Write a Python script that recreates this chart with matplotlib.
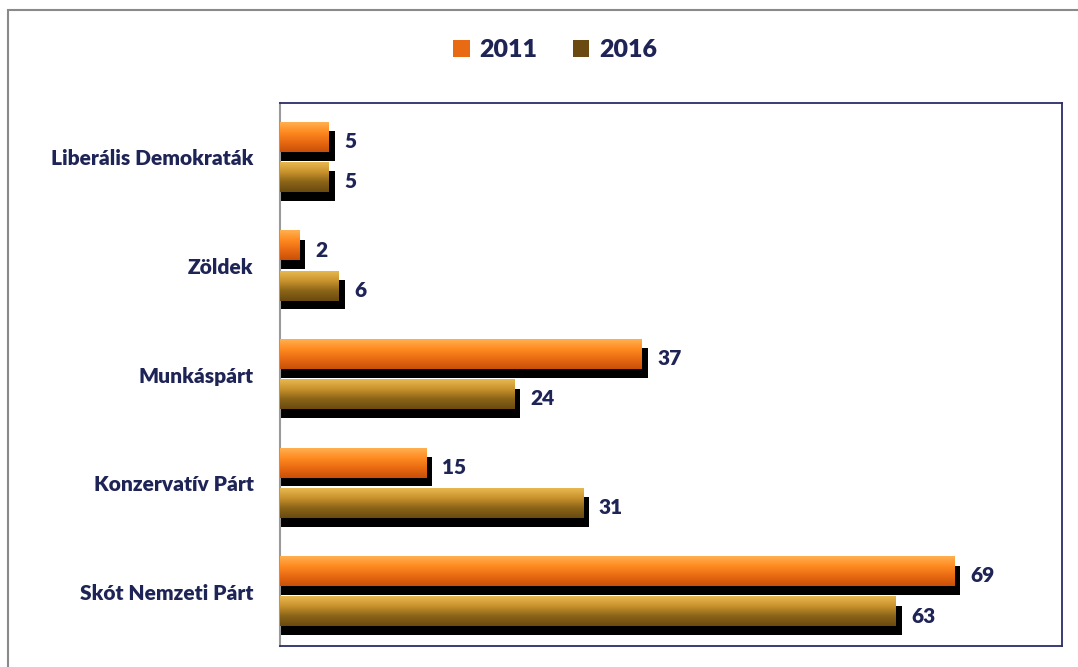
import numpy as np
import matplotlib
matplotlib.use('Agg')
import matplotlib.pyplot as plt
from matplotlib.patches import Patch, Rectangle
from matplotlib.colors import to_rgb

# chart data
categories = ['Liberális Demokraták', 'Zöldek', 'Munkáspárt', 'Konzervatív Párt', 'Skót Nemzeti Párt']
vals_2011 = [5, 2, 37, 15, 69]
vals_2016 = [5, 6, 24, 31, 63]
series_names = ['2011', '2016']

NAVY = '#1f2456'
grad_2011 = ['#ffb050', '#ff8a20', '#e86a12', '#c85008']
grad_2016 = ['#e8b850', '#c8922c', '#8a6418', '#6a4a10']

plt.rcParams['font.family'] = ['Lato', 'DejaVu Sans']


def gradient_img(stops, n=64):
    cols = np.array([to_rgb(c) for c in stops])
    pos = np.linspace(0, 1, len(stops))
    t = np.linspace(0, 1, n)
    img = np.stack([np.interp(t, pos, cols[:, k]) for k in range(3)], axis=1)
    return img[:, None, :]


fig = plt.figure(figsize=(10.78, 6.67), dpi=100)
# outer frame
fig.patches.append(Rectangle((8 / 1078, -0.05), 1.2, 1 - 10 / 667 + 0.05,
                             transform=fig.transFigure, fill=False,
                             edgecolor='#8a8a8a', linewidth=1.5))

ax = fig.add_axes([280 / 1078, 1 - 646 / 667, (1062 - 280) / 1078, (646 - 103) / 667])

y = np.arange(len(categories))
h = 0.27
off = 0.185
dx, dy = 0.6, 0.08  # shadow offset

for vals, sign, stops in [(vals_2011, -1, grad_2011), (vals_2016, 1, grad_2016)]:
    img = gradient_img(stops)
    for yi, v in zip(y, vals):
        yc = yi + sign * off
        # shadow
        ax.add_patch(Rectangle((0, yc - h / 2 + dy), v + dx, h, facecolor='black',
                               edgecolor='none', zorder=2))
        ax.imshow(img, extent=(0, v, yc + h / 2, yc - h / 2), origin='upper',
                  aspect='auto', zorder=3, interpolation='bilinear')
        ax.annotate(str(v), (v + dx, yc + dy / 2), xytext=(7, 0), textcoords='offset points',
                    va='center', ha='left', fontsize=15, fontweight='heavy', color=NAVY)

ax.set_xlim(0, 80)
ax.set_ylim(len(categories) - 0.5, -0.5)
ax.set_yticks(y)
ax.set_yticklabels(categories, fontsize=15, fontweight='heavy', color=NAVY)
ax.tick_params(axis='y', length=0, pad=19)
ax.set_xticks([])
for s in ['top', 'right', 'bottom']:
    ax.spines[s].set_color('#2a2d6a')
    ax.spines[s].set_linewidth(1.3)
ax.spines['left'].set_color('#9a9a9a')
ax.spines['left'].set_linewidth(1.5)

handles = [Patch(facecolor=grad_2011[2], edgecolor='none'),
           Patch(facecolor=grad_2016[3], edgecolor='none')]
fig.legend(handles, series_names, loc='center', bbox_to_anchor=(555 / 1078, 1 - 50 / 667),
           ncol=2, frameon=False, handlelength=0.65, handleheight=0.65, handletextpad=0.4,
           columnspacing=1.4, prop={'size': 18, 'weight': 'heavy'}, labelcolor=NAVY)

fig.savefig('out.png', dpi=100)
